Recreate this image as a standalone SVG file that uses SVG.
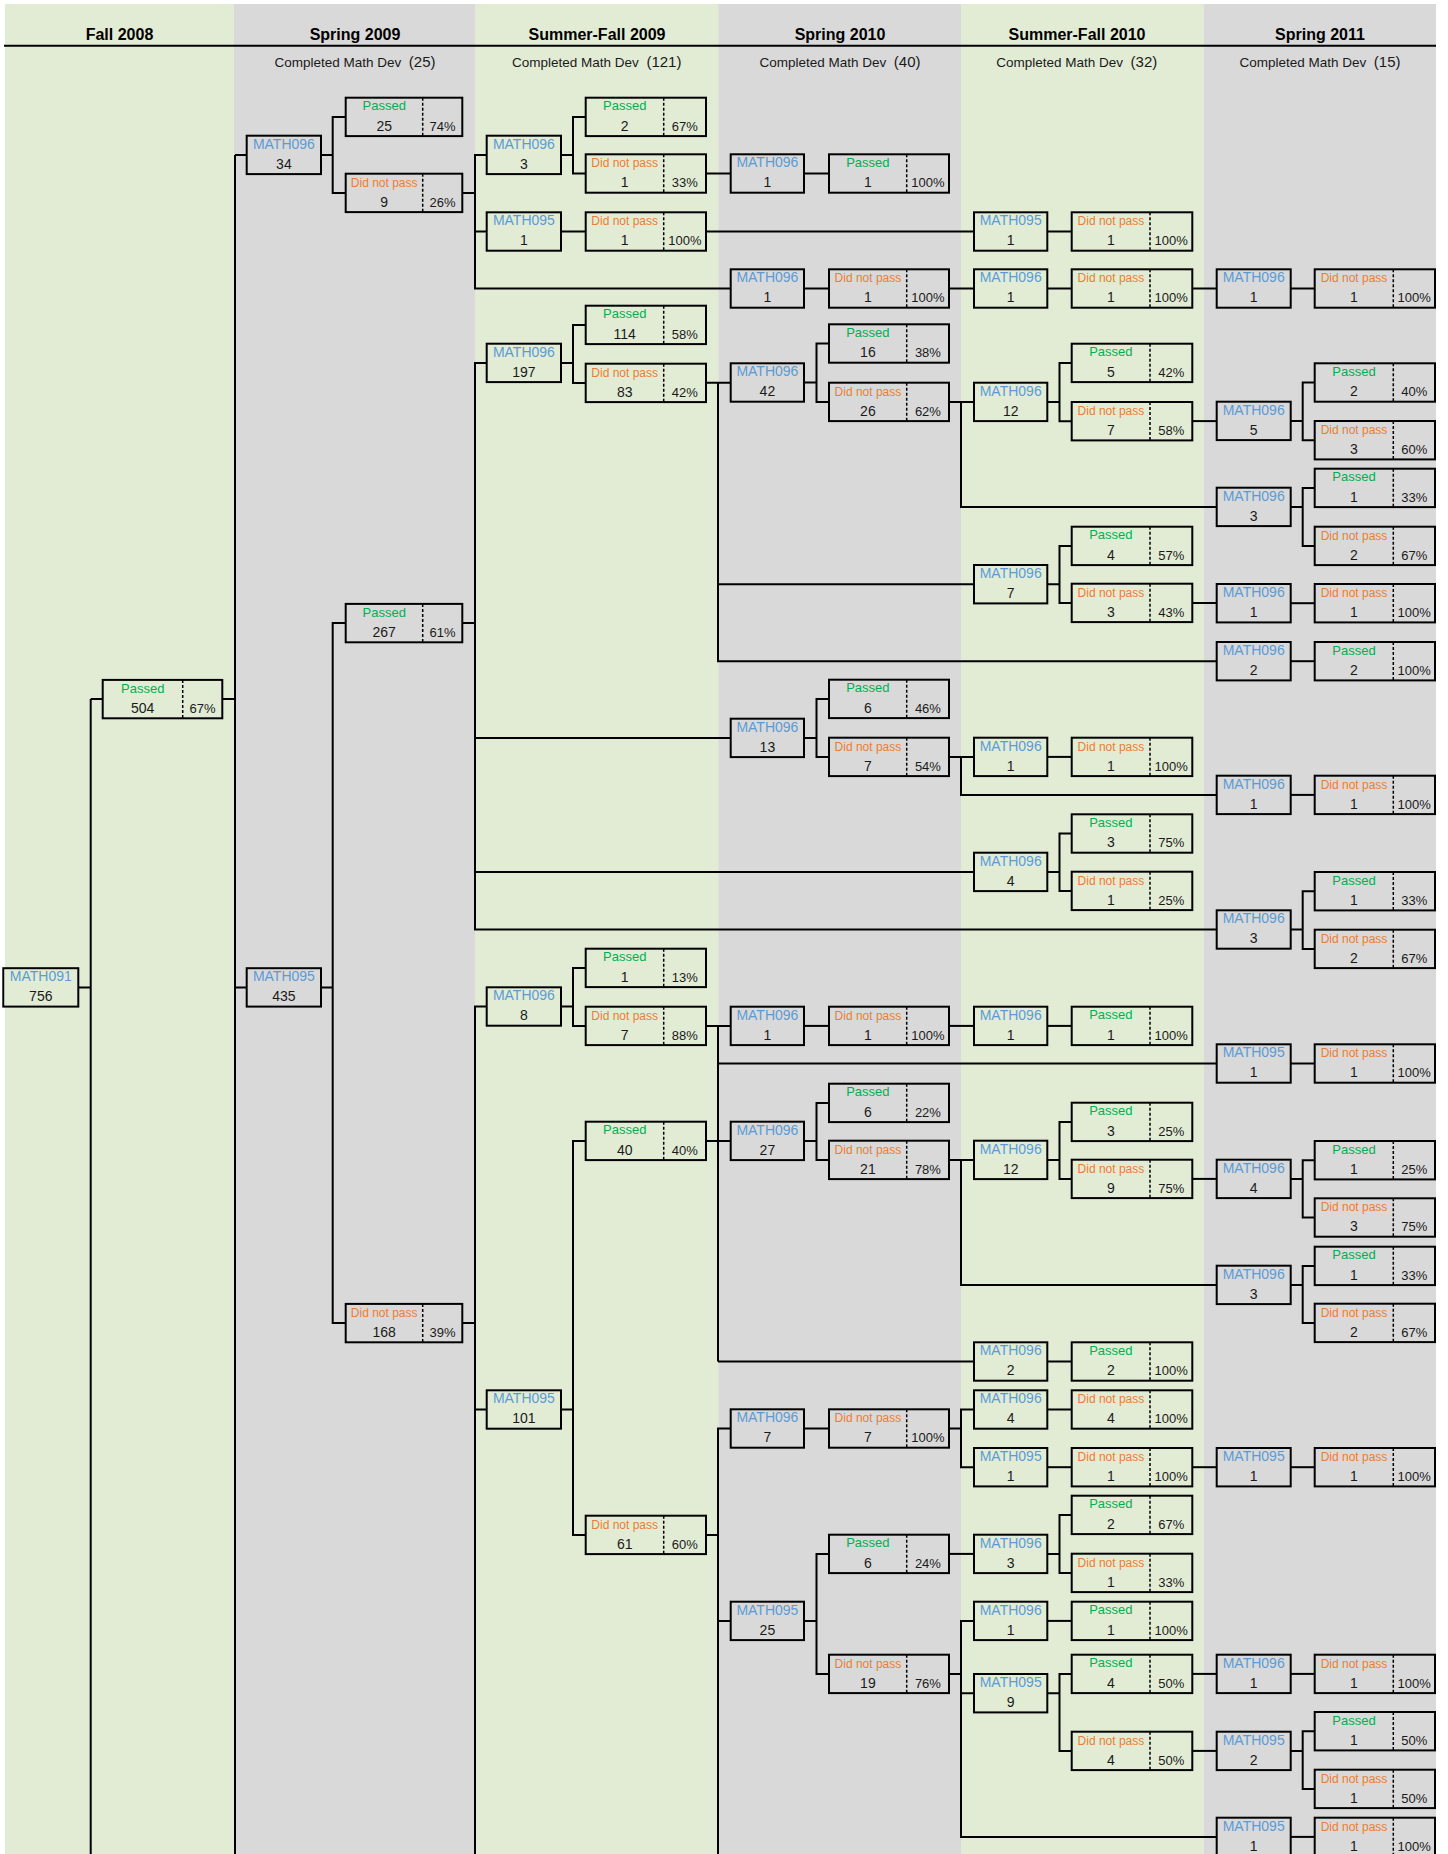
<svg xmlns="http://www.w3.org/2000/svg" width="1448" height="1854" viewBox="0 0 1448 1854">
<style>
.bgG{fill:#E2ECD5}
.bgS{fill:#D9D9D9}
.bx{fill:none;stroke:#000;stroke-width:2}
.dv{stroke:#000;stroke-width:1.5;stroke-dasharray:3 2}
text{font-family:"Liberation Sans",Arial,sans-serif;text-anchor:middle}
.h{font-size:16px;font-weight:bold;fill:#000}
.s{font-size:13.5px;fill:#1a1a1a}
.sp{font-size:15px}
.m{font-size:14px;fill:#5B9BD5}
.n{font-size:14px;fill:#1a1a1a}
.p{font-size:13px;fill:#00B050}
.d{font-size:12px;fill:#ED7D31}
.pc{font-size:13px;fill:#1a1a1a}
#connectors path{fill:none;stroke:#000;stroke-width:2}
</style>
<rect width="1448" height="1854" fill="#fff"/>
<g id="columns">
<rect class="bgG" x="5" y="4" width="229" height="1850"/>
<rect class="bgS" x="234" y="4" width="241" height="1850"/>
<rect class="bgG" x="475" y="4" width="243.3" height="1850"/>
<rect class="bgS" x="718.3" y="4" width="242.7" height="1850"/>
<rect class="bgG" x="961" y="4" width="243" height="1850"/>
<rect class="bgS" x="1204" y="4" width="232" height="1850"/>
<line x1="4" y1="45.7" x2="1436" y2="45.7" stroke="#000" stroke-width="2"/>
<text class="h" x="119.5" y="40">Fall 2008</text>
<text class="h" x="355" y="40">Spring 2009</text>
<text class="h" x="597" y="40">Summer-Fall 2009</text>
<text class="h" x="840" y="40">Spring 2010</text>
<text class="h" x="1077" y="40">Summer-Fall 2010</text>
<text class="h" x="1320" y="40">Spring 2011</text>
<text class="s" x="355" y="66.5">Completed Math Dev<tspan class="sp" dx="7.6">(25)</tspan></text>
<text class="s" x="596.7" y="66.5">Completed Math Dev<tspan class="sp" dx="7.6">(121)</tspan></text>
<text class="s" x="840" y="66.5">Completed Math Dev<tspan class="sp" dx="7.6">(40)</tspan></text>
<text class="s" x="1076.7" y="66.5">Completed Math Dev<tspan class="sp" dx="7.6">(32)</tspan></text>
<text class="s" x="1320" y="66.5">Completed Math Dev<tspan class="sp" dx="7.6">(15)</tspan></text>
</g>
<g id="connectors">
<path d="M78.3 987.4H90.7M90.7 699.1V1854M90.7 699.1H102.7"/>
<path d="M222.3 699.1H235M235 154.9V1854M235 154.9H246.7M235 987.4H246.7"/>
<path d="M321 154.9H332.7M345.7 116.9H332.7V192.9H345.7"/>
<path d="M321 987.4H332.7M345.7 623.1H332.7V1323.1H345.7"/>
<path d="M462.3 192.9H475M486.7 154.9H475V288.5H730.7M475 231.5H486.7"/>
<path d="M462.3 623.1H475M486.7 362.9H475V929.5H1216.7M475 737.9H730.7M475 871.9H974"/>
<path d="M462.3 1323.1H475M486.7 1006.5H475V1854M475 1409.5H486.7"/>
<path d="M561 154.9H573M585.7 116.9H573V173.5H585.7"/>
<path d="M561 231.5H585.7"/>
<path d="M561 362.9H573M585.7 324.9H573V382.9H585.7"/>
<path d="M561 1006.5H573M585.7 967.9H573V1025.9H585.7"/>
<path d="M561 1409.5H573M585.7 1140.9H573V1534.9H585.7"/>
<path d="M706 173.5H730.7"/>
<path d="M706 231.5H974"/>
<path d="M706 382.7H730.7M718 382.7V661.2H1216.7M718 584.2H974"/>
<path d="M706 1025.9H730.7M718 1025.9V1361.5M718 1063.5H1216.7"/>
<path d="M706 1140.9H730.7M718 1361.5H974"/>
<path d="M706 1534.9H718M730.7 1428.5H718V1854M718 1620.9H730.7"/>
<path d="M804 173.5H829"/>
<path d="M804 288.5H829"/>
<path d="M804 382.5H816.5M829 343.5H816.5V401.9H829"/>
<path d="M804 737.9H816.5M829 698.9H816.5V756.9H829"/>
<path d="M804 1025.9H829"/>
<path d="M804 1140.9H816.5M829 1102.9H816.5V1159.9H829"/>
<path d="M804 1428.5H829"/>
<path d="M804 1620.9H816.5M829 1553.9H816.5V1673.9H829"/>
<path d="M949 288.5H974"/>
<path d="M949 401.9H974M961 401.9V506.9H1216.7"/>
<path d="M949 756.9H974M961 756.9V794.9H1216.7"/>
<path d="M949 1025.9H974"/>
<path d="M949 1159.9H974M961 1159.9V1284.9H1216.7"/>
<path d="M949 1428.5H961M974 1409.5H961V1467.2H974"/>
<path d="M949 1553.9H974"/>
<path d="M949 1673.9H961M974 1620.9H961V1836.9H1216.7M961 1693.2H974"/>
<path d="M1047.3 231.5H1071.7"/>
<path d="M1047.3 288.5H1071.7"/>
<path d="M1047.3 401.9H1059.5M1071.7 362.9H1059.5V421.2H1071.7"/>
<path d="M1047.3 584.2H1059.5M1071.7 545.9H1059.5V602.9H1071.7"/>
<path d="M1047.3 756.9H1071.7"/>
<path d="M1047.3 871.9H1059.5M1071.7 833.5H1059.5V890.9H1071.7"/>
<path d="M1047.3 1025.9H1071.7"/>
<path d="M1047.3 1159.9H1059.5M1071.7 1121.9H1059.5V1178.9H1071.7"/>
<path d="M1047.3 1361.5H1071.7"/>
<path d="M1047.3 1409.5H1071.7"/>
<path d="M1047.3 1467.2H1071.7"/>
<path d="M1047.3 1553.9H1059.5M1071.7 1514.9H1059.5V1572.9H1071.7"/>
<path d="M1047.3 1620.9H1071.7"/>
<path d="M1047.3 1693.2H1059.5M1071.7 1673.9H1059.5V1750.9H1071.7"/>
<path d="M1192.3 288.5H1216.7"/>
<path d="M1192.3 421.1H1216.7"/>
<path d="M1192.3 603H1216.7"/>
<path d="M1192.3 1178.9H1216.7"/>
<path d="M1192.3 1467.2H1216.7"/>
<path d="M1192.3 1673.9H1216.7"/>
<path d="M1192.3 1750.9H1216.7"/>
<path d="M1290.7 288.5H1314.7"/>
<path d="M1290.7 420.9H1302.7M1314.7 382.5H1302.7V440.2H1314.7"/>
<path d="M1290.7 506.9H1302.7M1314.7 487.9H1302.7V545.9H1314.7"/>
<path d="M1290.7 603.2H1314.7"/>
<path d="M1290.7 661.2H1314.7"/>
<path d="M1290.7 794.9H1314.7"/>
<path d="M1290.7 929.5H1302.7M1314.7 891.2H1302.7V948.9H1314.7"/>
<path d="M1290.7 1063.5H1314.7"/>
<path d="M1290.7 1178.9H1302.7M1314.7 1160.2H1302.7V1217.5H1314.7"/>
<path d="M1290.7 1284.9H1302.7M1314.7 1265.9H1302.7V1322.9H1314.7"/>
<path d="M1290.7 1467.2H1314.7"/>
<path d="M1290.7 1673.9H1314.7"/>
<path d="M1290.7 1750.9H1302.7M1314.7 1731.2H1302.7V1788.9H1314.7"/>
<path d="M1290.7 1836.9H1314.7"/>
</g>
<g id="c0-math091" transform="translate(3.3,968.2)"><rect class="bx" width="75" height="38.4"/><text class="m" x="37.5" y="12.8">MATH091</text><text class="n" x="37.5" y="33">756</text></g>
<g id="c0-passed504" transform="translate(102.7,679.9)"><rect class="bx" width="119.6" height="38.4"/><line class="dv" x1="80" y1="0" x2="80" y2="38.4"/><text class="p" x="40" y="12.8">Passed</text><text class="n" x="40" y="33">504</text><text class="pc" x="99.8" y="33">67%</text></g>
<g id="c1-m34" transform="translate(246.7,135.7)"><rect class="bx" width="74.3" height="38.4"/><text class="m" x="37.2" y="12.8">MATH096</text><text class="n" x="37.2" y="33">34</text></g>
<g id="c1-p25" transform="translate(345.7,97.7)"><rect class="bx" width="116.6" height="38.4"/><line class="dv" x1="77" y1="0" x2="77" y2="38.4"/><text class="p" x="38.5" y="12.8">Passed</text><text class="n" x="38.5" y="33">25</text><text class="pc" x="96.8" y="33">74%</text></g>
<g id="c1-d9" transform="translate(345.7,173.7)"><rect class="bx" width="116.6" height="38.4"/><line class="dv" x1="77" y1="0" x2="77" y2="38.4"/><text class="d" x="38.5" y="13">Did not pass</text><text class="n" x="38.5" y="33">9</text><text class="pc" x="96.8" y="33">26%</text></g>
<g id="c1-m435" transform="translate(246.7,968.2)"><rect class="bx" width="74.3" height="38.4"/><text class="m" x="37.2" y="12.8">MATH095</text><text class="n" x="37.2" y="33">435</text></g>
<g id="c1-p267" transform="translate(345.7,603.9)"><rect class="bx" width="116.6" height="38.4"/><line class="dv" x1="77" y1="0" x2="77" y2="38.4"/><text class="p" x="38.5" y="12.8">Passed</text><text class="n" x="38.5" y="33">267</text><text class="pc" x="96.8" y="33">61%</text></g>
<g id="c1-d168" transform="translate(345.7,1303.9)"><rect class="bx" width="116.6" height="38.4"/><line class="dv" x1="77" y1="0" x2="77" y2="38.4"/><text class="d" x="38.5" y="13">Did not pass</text><text class="n" x="38.5" y="33">168</text><text class="pc" x="96.8" y="33">39%</text></g>
<g id="c2-m3" transform="translate(486.7,135.7)"><rect class="bx" width="74.3" height="38.4"/><text class="m" x="37.2" y="12.8">MATH096</text><text class="n" x="37.2" y="33">3</text></g>
<g id="c2-p2" transform="translate(585.7,97.7)"><rect class="bx" width="120.3" height="38.4"/><line class="dv" x1="78" y1="0" x2="78" y2="38.4"/><text class="p" x="39" y="12.8">Passed</text><text class="n" x="39" y="33">2</text><text class="pc" x="99.2" y="33">67%</text></g>
<g id="c2-d1a" transform="translate(585.7,154.3)"><rect class="bx" width="120.3" height="38.4"/><line class="dv" x1="78" y1="0" x2="78" y2="38.4"/><text class="d" x="39" y="13">Did not pass</text><text class="n" x="39" y="33">1</text><text class="pc" x="99.2" y="33">33%</text></g>
<g id="c2-m1" transform="translate(486.7,212.3)"><rect class="bx" width="74.3" height="38.4"/><text class="m" x="37.2" y="12.8">MATH095</text><text class="n" x="37.2" y="33">1</text></g>
<g id="c2-d1b" transform="translate(585.7,212.3)"><rect class="bx" width="120.3" height="38.4"/><line class="dv" x1="78" y1="0" x2="78" y2="38.4"/><text class="d" x="39" y="13">Did not pass</text><text class="n" x="39" y="33">1</text><text class="pc" x="99.2" y="33">100%</text></g>
<g id="c2-m197" transform="translate(486.7,343.7)"><rect class="bx" width="74.3" height="38.4"/><text class="m" x="37.2" y="12.8">MATH096</text><text class="n" x="37.2" y="33">197</text></g>
<g id="c2-p114" transform="translate(585.7,305.7)"><rect class="bx" width="120.3" height="38.4"/><line class="dv" x1="78" y1="0" x2="78" y2="38.4"/><text class="p" x="39" y="12.8">Passed</text><text class="n" x="39" y="33">114</text><text class="pc" x="99.2" y="33">58%</text></g>
<g id="c2-d83" transform="translate(585.7,363.7)"><rect class="bx" width="120.3" height="38.4"/><line class="dv" x1="78" y1="0" x2="78" y2="38.4"/><text class="d" x="39" y="13">Did not pass</text><text class="n" x="39" y="33">83</text><text class="pc" x="99.2" y="33">42%</text></g>
<g id="c2-m8" transform="translate(486.7,987.3)"><rect class="bx" width="74.3" height="38.4"/><text class="m" x="37.2" y="12.8">MATH096</text><text class="n" x="37.2" y="33">8</text></g>
<g id="c2-p1" transform="translate(585.7,948.7)"><rect class="bx" width="120.3" height="38.4"/><line class="dv" x1="78" y1="0" x2="78" y2="38.4"/><text class="p" x="39" y="12.8">Passed</text><text class="n" x="39" y="33">1</text><text class="pc" x="99.2" y="33">13%</text></g>
<g id="c2-d7" transform="translate(585.7,1006.7)"><rect class="bx" width="120.3" height="38.4"/><line class="dv" x1="78" y1="0" x2="78" y2="38.4"/><text class="d" x="39" y="13">Did not pass</text><text class="n" x="39" y="33">7</text><text class="pc" x="99.2" y="33">88%</text></g>
<g id="c2-m101" transform="translate(486.7,1390.3)"><rect class="bx" width="74.3" height="38.4"/><text class="m" x="37.2" y="12.8">MATH095</text><text class="n" x="37.2" y="33">101</text></g>
<g id="c2-p40" transform="translate(585.7,1121.7)"><rect class="bx" width="120.3" height="38.4"/><line class="dv" x1="78" y1="0" x2="78" y2="38.4"/><text class="p" x="39" y="12.8">Passed</text><text class="n" x="39" y="33">40</text><text class="pc" x="99.2" y="33">40%</text></g>
<g id="c2-d61" transform="translate(585.7,1515.7)"><rect class="bx" width="120.3" height="38.4"/><line class="dv" x1="78" y1="0" x2="78" y2="38.4"/><text class="d" x="39" y="13">Did not pass</text><text class="n" x="39" y="33">61</text><text class="pc" x="99.2" y="33">60%</text></g>
<g id="c3-m1a" transform="translate(730.7,154.3)"><rect class="bx" width="73.3" height="38.4"/><text class="m" x="36.7" y="12.8">MATH096</text><text class="n" x="36.7" y="33">1</text></g>
<g id="c3-p1a" transform="translate(829,154.3)"><rect class="bx" width="120" height="38.4"/><line class="dv" x1="77.7" y1="0" x2="77.7" y2="38.4"/><text class="p" x="38.9" y="12.8">Passed</text><text class="n" x="38.9" y="33">1</text><text class="pc" x="98.9" y="33">100%</text></g>
<g id="c3-m1b" transform="translate(730.7,269.3)"><rect class="bx" width="73.3" height="38.4"/><text class="m" x="36.7" y="12.8">MATH096</text><text class="n" x="36.7" y="33">1</text></g>
<g id="c3-d1b" transform="translate(829,269.3)"><rect class="bx" width="120" height="38.4"/><line class="dv" x1="77.7" y1="0" x2="77.7" y2="38.4"/><text class="d" x="38.9" y="13">Did not pass</text><text class="n" x="38.9" y="33">1</text><text class="pc" x="98.9" y="33">100%</text></g>
<g id="c3-m42" transform="translate(730.7,363.3)"><rect class="bx" width="73.3" height="38.4"/><text class="m" x="36.7" y="12.8">MATH096</text><text class="n" x="36.7" y="33">42</text></g>
<g id="c3-p16" transform="translate(829,324.3)"><rect class="bx" width="120" height="38.4"/><line class="dv" x1="77.7" y1="0" x2="77.7" y2="38.4"/><text class="p" x="38.9" y="12.8">Passed</text><text class="n" x="38.9" y="33">16</text><text class="pc" x="98.9" y="33">38%</text></g>
<g id="c3-d26" transform="translate(829,382.7)"><rect class="bx" width="120" height="38.4"/><line class="dv" x1="77.7" y1="0" x2="77.7" y2="38.4"/><text class="d" x="38.9" y="13">Did not pass</text><text class="n" x="38.9" y="33">26</text><text class="pc" x="98.9" y="33">62%</text></g>
<g id="c3-m13" transform="translate(730.7,718.7)"><rect class="bx" width="73.3" height="38.4"/><text class="m" x="36.7" y="12.8">MATH096</text><text class="n" x="36.7" y="33">13</text></g>
<g id="c3-p6a" transform="translate(829,679.7)"><rect class="bx" width="120" height="38.4"/><line class="dv" x1="77.7" y1="0" x2="77.7" y2="38.4"/><text class="p" x="38.9" y="12.8">Passed</text><text class="n" x="38.9" y="33">6</text><text class="pc" x="98.9" y="33">46%</text></g>
<g id="c3-d7a" transform="translate(829,737.7)"><rect class="bx" width="120" height="38.4"/><line class="dv" x1="77.7" y1="0" x2="77.7" y2="38.4"/><text class="d" x="38.9" y="13">Did not pass</text><text class="n" x="38.9" y="33">7</text><text class="pc" x="98.9" y="33">54%</text></g>
<g id="c3-m1c" transform="translate(730.7,1006.7)"><rect class="bx" width="73.3" height="38.4"/><text class="m" x="36.7" y="12.8">MATH096</text><text class="n" x="36.7" y="33">1</text></g>
<g id="c3-d1c" transform="translate(829,1006.7)"><rect class="bx" width="120" height="38.4"/><line class="dv" x1="77.7" y1="0" x2="77.7" y2="38.4"/><text class="d" x="38.9" y="13">Did not pass</text><text class="n" x="38.9" y="33">1</text><text class="pc" x="98.9" y="33">100%</text></g>
<g id="c3-m27" transform="translate(730.7,1121.7)"><rect class="bx" width="73.3" height="38.4"/><text class="m" x="36.7" y="12.8">MATH096</text><text class="n" x="36.7" y="33">27</text></g>
<g id="c3-p6b" transform="translate(829,1083.7)"><rect class="bx" width="120" height="38.4"/><line class="dv" x1="77.7" y1="0" x2="77.7" y2="38.4"/><text class="p" x="38.9" y="12.8">Passed</text><text class="n" x="38.9" y="33">6</text><text class="pc" x="98.9" y="33">22%</text></g>
<g id="c3-d21" transform="translate(829,1140.7)"><rect class="bx" width="120" height="38.4"/><line class="dv" x1="77.7" y1="0" x2="77.7" y2="38.4"/><text class="d" x="38.9" y="13">Did not pass</text><text class="n" x="38.9" y="33">21</text><text class="pc" x="98.9" y="33">78%</text></g>
<g id="c3-m7" transform="translate(730.7,1409.3)"><rect class="bx" width="73.3" height="38.4"/><text class="m" x="36.7" y="12.8">MATH096</text><text class="n" x="36.7" y="33">7</text></g>
<g id="c3-d7b" transform="translate(829,1409.3)"><rect class="bx" width="120" height="38.4"/><line class="dv" x1="77.7" y1="0" x2="77.7" y2="38.4"/><text class="d" x="38.9" y="13">Did not pass</text><text class="n" x="38.9" y="33">7</text><text class="pc" x="98.9" y="33">100%</text></g>
<g id="c3-m25" transform="translate(730.7,1601.7)"><rect class="bx" width="73.3" height="38.4"/><text class="m" x="36.7" y="12.8">MATH095</text><text class="n" x="36.7" y="33">25</text></g>
<g id="c3-p6c" transform="translate(829,1534.7)"><rect class="bx" width="120" height="38.4"/><line class="dv" x1="77.7" y1="0" x2="77.7" y2="38.4"/><text class="p" x="38.9" y="12.8">Passed</text><text class="n" x="38.9" y="33">6</text><text class="pc" x="98.9" y="33">24%</text></g>
<g id="c3-d19" transform="translate(829,1654.7)"><rect class="bx" width="120" height="38.4"/><line class="dv" x1="77.7" y1="0" x2="77.7" y2="38.4"/><text class="d" x="38.9" y="13">Did not pass</text><text class="n" x="38.9" y="33">19</text><text class="pc" x="98.9" y="33">76%</text></g>
<g id="c4-m1a" transform="translate(974,212.3)"><rect class="bx" width="73.3" height="38.4"/><text class="m" x="36.7" y="12.8">MATH095</text><text class="n" x="36.7" y="33">1</text></g>
<g id="c4-d1a" transform="translate(1071.7,212.3)"><rect class="bx" width="120.6" height="38.4"/><line class="dv" x1="78.3" y1="0" x2="78.3" y2="38.4"/><text class="d" x="39.2" y="13">Did not pass</text><text class="n" x="39.2" y="33">1</text><text class="pc" x="99.5" y="33">100%</text></g>
<g id="c4-m1b" transform="translate(974,269.3)"><rect class="bx" width="73.3" height="38.4"/><text class="m" x="36.7" y="12.8">MATH096</text><text class="n" x="36.7" y="33">1</text></g>
<g id="c4-d1b" transform="translate(1071.7,269.3)"><rect class="bx" width="120.6" height="38.4"/><line class="dv" x1="78.3" y1="0" x2="78.3" y2="38.4"/><text class="d" x="39.2" y="13">Did not pass</text><text class="n" x="39.2" y="33">1</text><text class="pc" x="99.5" y="33">100%</text></g>
<g id="c4-m12a" transform="translate(974,382.7)"><rect class="bx" width="73.3" height="38.4"/><text class="m" x="36.7" y="12.8">MATH096</text><text class="n" x="36.7" y="33">12</text></g>
<g id="c4-p5" transform="translate(1071.7,343.7)"><rect class="bx" width="120.6" height="38.4"/><line class="dv" x1="78.3" y1="0" x2="78.3" y2="38.4"/><text class="p" x="39.2" y="12.8">Passed</text><text class="n" x="39.2" y="33">5</text><text class="pc" x="99.5" y="33">42%</text></g>
<g id="c4-d7" transform="translate(1071.7,402)"><rect class="bx" width="120.6" height="38.4"/><line class="dv" x1="78.3" y1="0" x2="78.3" y2="38.4"/><text class="d" x="39.2" y="13">Did not pass</text><text class="n" x="39.2" y="33">7</text><text class="pc" x="99.5" y="33">58%</text></g>
<g id="c4-m7" transform="translate(974,565)"><rect class="bx" width="73.3" height="38.4"/><text class="m" x="36.7" y="12.8">MATH096</text><text class="n" x="36.7" y="33">7</text></g>
<g id="c4-p4a" transform="translate(1071.7,526.7)"><rect class="bx" width="120.6" height="38.4"/><line class="dv" x1="78.3" y1="0" x2="78.3" y2="38.4"/><text class="p" x="39.2" y="12.8">Passed</text><text class="n" x="39.2" y="33">4</text><text class="pc" x="99.5" y="33">57%</text></g>
<g id="c4-d3" transform="translate(1071.7,583.7)"><rect class="bx" width="120.6" height="38.4"/><line class="dv" x1="78.3" y1="0" x2="78.3" y2="38.4"/><text class="d" x="39.2" y="13">Did not pass</text><text class="n" x="39.2" y="33">3</text><text class="pc" x="99.5" y="33">43%</text></g>
<g id="c4-m1c" transform="translate(974,737.7)"><rect class="bx" width="73.3" height="38.4"/><text class="m" x="36.7" y="12.8">MATH096</text><text class="n" x="36.7" y="33">1</text></g>
<g id="c4-d1c" transform="translate(1071.7,737.7)"><rect class="bx" width="120.6" height="38.4"/><line class="dv" x1="78.3" y1="0" x2="78.3" y2="38.4"/><text class="d" x="39.2" y="13">Did not pass</text><text class="n" x="39.2" y="33">1</text><text class="pc" x="99.5" y="33">100%</text></g>
<g id="c4-m4a" transform="translate(974,852.7)"><rect class="bx" width="73.3" height="38.4"/><text class="m" x="36.7" y="12.8">MATH096</text><text class="n" x="36.7" y="33">4</text></g>
<g id="c4-p3a" transform="translate(1071.7,814.3)"><rect class="bx" width="120.6" height="38.4"/><line class="dv" x1="78.3" y1="0" x2="78.3" y2="38.4"/><text class="p" x="39.2" y="12.8">Passed</text><text class="n" x="39.2" y="33">3</text><text class="pc" x="99.5" y="33">75%</text></g>
<g id="c4-d1d" transform="translate(1071.7,871.7)"><rect class="bx" width="120.6" height="38.4"/><line class="dv" x1="78.3" y1="0" x2="78.3" y2="38.4"/><text class="d" x="39.2" y="13">Did not pass</text><text class="n" x="39.2" y="33">1</text><text class="pc" x="99.5" y="33">25%</text></g>
<g id="c4-m1d" transform="translate(974,1006.7)"><rect class="bx" width="73.3" height="38.4"/><text class="m" x="36.7" y="12.8">MATH096</text><text class="n" x="36.7" y="33">1</text></g>
<g id="c4-p1a" transform="translate(1071.7,1006.7)"><rect class="bx" width="120.6" height="38.4"/><line class="dv" x1="78.3" y1="0" x2="78.3" y2="38.4"/><text class="p" x="39.2" y="12.8">Passed</text><text class="n" x="39.2" y="33">1</text><text class="pc" x="99.5" y="33">100%</text></g>
<g id="c4-m12b" transform="translate(974,1140.7)"><rect class="bx" width="73.3" height="38.4"/><text class="m" x="36.7" y="12.8">MATH096</text><text class="n" x="36.7" y="33">12</text></g>
<g id="c4-p3b" transform="translate(1071.7,1102.7)"><rect class="bx" width="120.6" height="38.4"/><line class="dv" x1="78.3" y1="0" x2="78.3" y2="38.4"/><text class="p" x="39.2" y="12.8">Passed</text><text class="n" x="39.2" y="33">3</text><text class="pc" x="99.5" y="33">25%</text></g>
<g id="c4-d9" transform="translate(1071.7,1159.7)"><rect class="bx" width="120.6" height="38.4"/><line class="dv" x1="78.3" y1="0" x2="78.3" y2="38.4"/><text class="d" x="39.2" y="13">Did not pass</text><text class="n" x="39.2" y="33">9</text><text class="pc" x="99.5" y="33">75%</text></g>
<g id="c4-m2" transform="translate(974,1342.3)"><rect class="bx" width="73.3" height="38.4"/><text class="m" x="36.7" y="12.8">MATH096</text><text class="n" x="36.7" y="33">2</text></g>
<g id="c4-p2a" transform="translate(1071.7,1342.3)"><rect class="bx" width="120.6" height="38.4"/><line class="dv" x1="78.3" y1="0" x2="78.3" y2="38.4"/><text class="p" x="39.2" y="12.8">Passed</text><text class="n" x="39.2" y="33">2</text><text class="pc" x="99.5" y="33">100%</text></g>
<g id="c4-m4b" transform="translate(974,1390.3)"><rect class="bx" width="73.3" height="38.4"/><text class="m" x="36.7" y="12.8">MATH096</text><text class="n" x="36.7" y="33">4</text></g>
<g id="c4-d4a" transform="translate(1071.7,1390.3)"><rect class="bx" width="120.6" height="38.4"/><line class="dv" x1="78.3" y1="0" x2="78.3" y2="38.4"/><text class="d" x="39.2" y="13">Did not pass</text><text class="n" x="39.2" y="33">4</text><text class="pc" x="99.5" y="33">100%</text></g>
<g id="c4-m1e" transform="translate(974,1448)"><rect class="bx" width="73.3" height="38.4"/><text class="m" x="36.7" y="12.8">MATH095</text><text class="n" x="36.7" y="33">1</text></g>
<g id="c4-d1e" transform="translate(1071.7,1448)"><rect class="bx" width="120.6" height="38.4"/><line class="dv" x1="78.3" y1="0" x2="78.3" y2="38.4"/><text class="d" x="39.2" y="13">Did not pass</text><text class="n" x="39.2" y="33">1</text><text class="pc" x="99.5" y="33">100%</text></g>
<g id="c4-m3" transform="translate(974,1534.7)"><rect class="bx" width="73.3" height="38.4"/><text class="m" x="36.7" y="12.8">MATH096</text><text class="n" x="36.7" y="33">3</text></g>
<g id="c4-p2b" transform="translate(1071.7,1495.7)"><rect class="bx" width="120.6" height="38.4"/><line class="dv" x1="78.3" y1="0" x2="78.3" y2="38.4"/><text class="p" x="39.2" y="12.8">Passed</text><text class="n" x="39.2" y="33">2</text><text class="pc" x="99.5" y="33">67%</text></g>
<g id="c4-d1f" transform="translate(1071.7,1553.7)"><rect class="bx" width="120.6" height="38.4"/><line class="dv" x1="78.3" y1="0" x2="78.3" y2="38.4"/><text class="d" x="39.2" y="13">Did not pass</text><text class="n" x="39.2" y="33">1</text><text class="pc" x="99.5" y="33">33%</text></g>
<g id="c4-m1f" transform="translate(974,1601.7)"><rect class="bx" width="73.3" height="38.4"/><text class="m" x="36.7" y="12.8">MATH096</text><text class="n" x="36.7" y="33">1</text></g>
<g id="c4-p1b" transform="translate(1071.7,1601.7)"><rect class="bx" width="120.6" height="38.4"/><line class="dv" x1="78.3" y1="0" x2="78.3" y2="38.4"/><text class="p" x="39.2" y="12.8">Passed</text><text class="n" x="39.2" y="33">1</text><text class="pc" x="99.5" y="33">100%</text></g>
<g id="c4-m9" transform="translate(974,1674)"><rect class="bx" width="73.3" height="38.4"/><text class="m" x="36.7" y="12.8">MATH095</text><text class="n" x="36.7" y="33">9</text></g>
<g id="c4-p4b" transform="translate(1071.7,1654.7)"><rect class="bx" width="120.6" height="38.4"/><line class="dv" x1="78.3" y1="0" x2="78.3" y2="38.4"/><text class="p" x="39.2" y="12.8">Passed</text><text class="n" x="39.2" y="33">4</text><text class="pc" x="99.5" y="33">50%</text></g>
<g id="c4-d4b" transform="translate(1071.7,1731.7)"><rect class="bx" width="120.6" height="38.4"/><line class="dv" x1="78.3" y1="0" x2="78.3" y2="38.4"/><text class="d" x="39.2" y="13">Did not pass</text><text class="n" x="39.2" y="33">4</text><text class="pc" x="99.5" y="33">50%</text></g>
<g id="c5-m1a" transform="translate(1216.7,269.3)"><rect class="bx" width="74" height="38.4"/><text class="m" x="37" y="12.8">MATH096</text><text class="n" x="37" y="33">1</text></g>
<g id="c5-d1a" transform="translate(1314.7,269.3)"><rect class="bx" width="120.3" height="38.4"/><line class="dv" x1="78.6" y1="0" x2="78.6" y2="38.4"/><text class="d" x="39.3" y="13">Did not pass</text><text class="n" x="39.3" y="33">1</text><text class="pc" x="99.5" y="33">100%</text></g>
<g id="c5-m5" transform="translate(1216.7,401.7)"><rect class="bx" width="74" height="38.4"/><text class="m" x="37" y="12.8">MATH096</text><text class="n" x="37" y="33">5</text></g>
<g id="c5-p2a" transform="translate(1314.7,363.3)"><rect class="bx" width="120.3" height="38.4"/><line class="dv" x1="78.6" y1="0" x2="78.6" y2="38.4"/><text class="p" x="39.3" y="12.8">Passed</text><text class="n" x="39.3" y="33">2</text><text class="pc" x="99.5" y="33">40%</text></g>
<g id="c5-d3a" transform="translate(1314.7,421)"><rect class="bx" width="120.3" height="38.4"/><line class="dv" x1="78.6" y1="0" x2="78.6" y2="38.4"/><text class="d" x="39.3" y="13">Did not pass</text><text class="n" x="39.3" y="33">3</text><text class="pc" x="99.5" y="33">60%</text></g>
<g id="c5-m3a" transform="translate(1216.7,487.7)"><rect class="bx" width="74" height="38.4"/><text class="m" x="37" y="12.8">MATH096</text><text class="n" x="37" y="33">3</text></g>
<g id="c5-p1a" transform="translate(1314.7,468.7)"><rect class="bx" width="120.3" height="38.4"/><line class="dv" x1="78.6" y1="0" x2="78.6" y2="38.4"/><text class="p" x="39.3" y="12.8">Passed</text><text class="n" x="39.3" y="33">1</text><text class="pc" x="99.5" y="33">33%</text></g>
<g id="c5-d2a" transform="translate(1314.7,526.7)"><rect class="bx" width="120.3" height="38.4"/><line class="dv" x1="78.6" y1="0" x2="78.6" y2="38.4"/><text class="d" x="39.3" y="13">Did not pass</text><text class="n" x="39.3" y="33">2</text><text class="pc" x="99.5" y="33">67%</text></g>
<g id="c5-m1b" transform="translate(1216.7,584)"><rect class="bx" width="74" height="38.4"/><text class="m" x="37" y="12.8">MATH096</text><text class="n" x="37" y="33">1</text></g>
<g id="c5-d1b" transform="translate(1314.7,584)"><rect class="bx" width="120.3" height="38.4"/><line class="dv" x1="78.6" y1="0" x2="78.6" y2="38.4"/><text class="d" x="39.3" y="13">Did not pass</text><text class="n" x="39.3" y="33">1</text><text class="pc" x="99.5" y="33">100%</text></g>
<g id="c5-m2" transform="translate(1216.7,642)"><rect class="bx" width="74" height="38.4"/><text class="m" x="37" y="12.8">MATH096</text><text class="n" x="37" y="33">2</text></g>
<g id="c5-p2b" transform="translate(1314.7,642)"><rect class="bx" width="120.3" height="38.4"/><line class="dv" x1="78.6" y1="0" x2="78.6" y2="38.4"/><text class="p" x="39.3" y="12.8">Passed</text><text class="n" x="39.3" y="33">2</text><text class="pc" x="99.5" y="33">100%</text></g>
<g id="c5-m1c" transform="translate(1216.7,775.7)"><rect class="bx" width="74" height="38.4"/><text class="m" x="37" y="12.8">MATH096</text><text class="n" x="37" y="33">1</text></g>
<g id="c5-d1c" transform="translate(1314.7,775.7)"><rect class="bx" width="120.3" height="38.4"/><line class="dv" x1="78.6" y1="0" x2="78.6" y2="38.4"/><text class="d" x="39.3" y="13">Did not pass</text><text class="n" x="39.3" y="33">1</text><text class="pc" x="99.5" y="33">100%</text></g>
<g id="c5-m3b" transform="translate(1216.7,910.3)"><rect class="bx" width="74" height="38.4"/><text class="m" x="37" y="12.8">MATH096</text><text class="n" x="37" y="33">3</text></g>
<g id="c5-p1b" transform="translate(1314.7,872)"><rect class="bx" width="120.3" height="38.4"/><line class="dv" x1="78.6" y1="0" x2="78.6" y2="38.4"/><text class="p" x="39.3" y="12.8">Passed</text><text class="n" x="39.3" y="33">1</text><text class="pc" x="99.5" y="33">33%</text></g>
<g id="c5-d2b" transform="translate(1314.7,929.7)"><rect class="bx" width="120.3" height="38.4"/><line class="dv" x1="78.6" y1="0" x2="78.6" y2="38.4"/><text class="d" x="39.3" y="13">Did not pass</text><text class="n" x="39.3" y="33">2</text><text class="pc" x="99.5" y="33">67%</text></g>
<g id="c5-m1d" transform="translate(1216.7,1044.3)"><rect class="bx" width="74" height="38.4"/><text class="m" x="37" y="12.8">MATH095</text><text class="n" x="37" y="33">1</text></g>
<g id="c5-d1d" transform="translate(1314.7,1044.3)"><rect class="bx" width="120.3" height="38.4"/><line class="dv" x1="78.6" y1="0" x2="78.6" y2="38.4"/><text class="d" x="39.3" y="13">Did not pass</text><text class="n" x="39.3" y="33">1</text><text class="pc" x="99.5" y="33">100%</text></g>
<g id="c5-m4" transform="translate(1216.7,1159.7)"><rect class="bx" width="74" height="38.4"/><text class="m" x="37" y="12.8">MATH096</text><text class="n" x="37" y="33">4</text></g>
<g id="c5-p1c" transform="translate(1314.7,1141)"><rect class="bx" width="120.3" height="38.4"/><line class="dv" x1="78.6" y1="0" x2="78.6" y2="38.4"/><text class="p" x="39.3" y="12.8">Passed</text><text class="n" x="39.3" y="33">1</text><text class="pc" x="99.5" y="33">25%</text></g>
<g id="c5-d3b" transform="translate(1314.7,1198.3)"><rect class="bx" width="120.3" height="38.4"/><line class="dv" x1="78.6" y1="0" x2="78.6" y2="38.4"/><text class="d" x="39.3" y="13">Did not pass</text><text class="n" x="39.3" y="33">3</text><text class="pc" x="99.5" y="33">75%</text></g>
<g id="c5-m3c" transform="translate(1216.7,1265.7)"><rect class="bx" width="74" height="38.4"/><text class="m" x="37" y="12.8">MATH096</text><text class="n" x="37" y="33">3</text></g>
<g id="c5-p1d" transform="translate(1314.7,1246.7)"><rect class="bx" width="120.3" height="38.4"/><line class="dv" x1="78.6" y1="0" x2="78.6" y2="38.4"/><text class="p" x="39.3" y="12.8">Passed</text><text class="n" x="39.3" y="33">1</text><text class="pc" x="99.5" y="33">33%</text></g>
<g id="c5-d2c" transform="translate(1314.7,1303.7)"><rect class="bx" width="120.3" height="38.4"/><line class="dv" x1="78.6" y1="0" x2="78.6" y2="38.4"/><text class="d" x="39.3" y="13">Did not pass</text><text class="n" x="39.3" y="33">2</text><text class="pc" x="99.5" y="33">67%</text></g>
<g id="c5-m1e" transform="translate(1216.7,1448)"><rect class="bx" width="74" height="38.4"/><text class="m" x="37" y="12.8">MATH095</text><text class="n" x="37" y="33">1</text></g>
<g id="c5-d1e" transform="translate(1314.7,1448)"><rect class="bx" width="120.3" height="38.4"/><line class="dv" x1="78.6" y1="0" x2="78.6" y2="38.4"/><text class="d" x="39.3" y="13">Did not pass</text><text class="n" x="39.3" y="33">1</text><text class="pc" x="99.5" y="33">100%</text></g>
<g id="c5-m1f" transform="translate(1216.7,1654.7)"><rect class="bx" width="74" height="38.4"/><text class="m" x="37" y="12.8">MATH096</text><text class="n" x="37" y="33">1</text></g>
<g id="c5-d1f" transform="translate(1314.7,1654.7)"><rect class="bx" width="120.3" height="38.4"/><line class="dv" x1="78.6" y1="0" x2="78.6" y2="38.4"/><text class="d" x="39.3" y="13">Did not pass</text><text class="n" x="39.3" y="33">1</text><text class="pc" x="99.5" y="33">100%</text></g>
<g id="c5-m2b" transform="translate(1216.7,1731.7)"><rect class="bx" width="74" height="38.4"/><text class="m" x="37" y="12.8">MATH095</text><text class="n" x="37" y="33">2</text></g>
<g id="c5-p1e" transform="translate(1314.7,1712)"><rect class="bx" width="120.3" height="38.4"/><line class="dv" x1="78.6" y1="0" x2="78.6" y2="38.4"/><text class="p" x="39.3" y="12.8">Passed</text><text class="n" x="39.3" y="33">1</text><text class="pc" x="99.5" y="33">50%</text></g>
<g id="c5-d1g" transform="translate(1314.7,1769.7)"><rect class="bx" width="120.3" height="38.4"/><line class="dv" x1="78.6" y1="0" x2="78.6" y2="38.4"/><text class="d" x="39.3" y="13">Did not pass</text><text class="n" x="39.3" y="33">1</text><text class="pc" x="99.5" y="33">50%</text></g>
<g id="c5-m1g" transform="translate(1216.7,1817.7)"><rect class="bx" width="74" height="38.4"/><text class="m" x="37" y="12.8">MATH095</text><text class="n" x="37" y="33">1</text></g>
<g id="c5-d1h" transform="translate(1314.7,1817.7)"><rect class="bx" width="120.3" height="38.4"/><line class="dv" x1="78.6" y1="0" x2="78.6" y2="38.4"/><text class="d" x="39.3" y="13">Did not pass</text><text class="n" x="39.3" y="33">1</text><text class="pc" x="99.5" y="33">100%</text></g>
</svg>
